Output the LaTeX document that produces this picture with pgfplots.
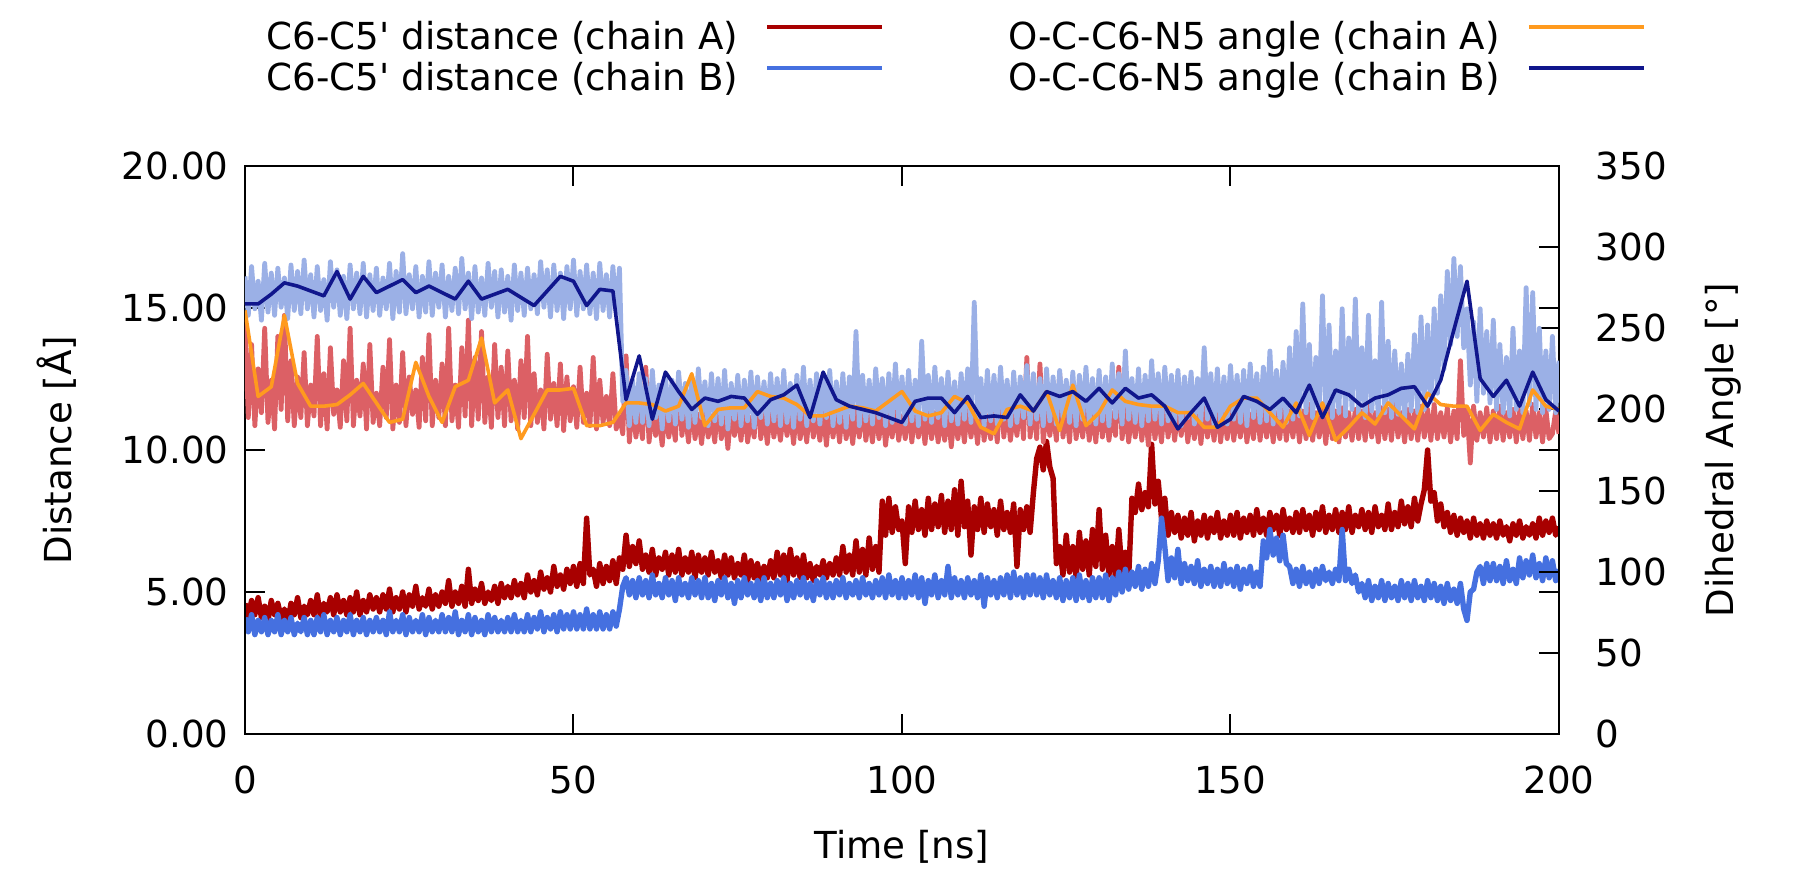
\documentclass[border=0pt]{standalone}
\usepackage{pgfplots}
\pgfplotsset{compat=1.18}
\usepackage{fontspec}
\setmainfont{DejaVu Sans}[Ligatures=TeXOff]
\definecolor{darkredA}{HTML}{A80000}
\definecolor{blueB}{HTML}{4570E0}
\definecolor{lightredA}{HTML}{DC6065}
\definecolor{lightblueB}{HTML}{9BB0E6}
\definecolor{orangeA}{HTML}{FF9A1E}
\definecolor{navyB}{HTML}{10168C}
\newcommand\fs{\fontsize{9.3}{11}\selectfont}

\pgfplotsset{
  common/.style={
    at={(0pt,0pt)},anchor=south west,
    width=328.5pt,height=142pt,scale only axis,
    xmin=0,xmax=200,
    major tick length=5pt,
    tick style={black,line width=0.5pt},
    axis line style={black,line width=0.5pt},
    tick label style={font=\fs},
    label style={font=\fs},
    /pgf/number format/assume math mode=true,
  },
  noisy/.style={line width=1.35pt,line join=round},
  noisylight/.style={line width=1.2pt,line join=round},
  smooth2/.style={line width=0.9pt,line join=round},
}

\begin{document}
\begin{tikzpicture}
\path[use as bounding box] (-61.25pt,-36pt) rectangle (389pt,183.5pt);

% distances (left axis)
\begin{axis}[common,
  ymin=0,ymax=20,
  xtick={0,50,...,200},ytick={0,5,...,20},
  xtick pos=both,xticklabel pos=lower,
  ytick pos=both,yticklabel pos=left,
  xticklabel style={yshift=-4.5pt},
  yticklabel style={xshift=-0.6pt,/pgf/number format/fixed,/pgf/number format/fixed zerofill,/pgf/number format/precision=2},
  xlabel={Time [ns]},ylabel={Distance [Å]},
  xlabel style={at={(axis description cs:0.5,-0.198)},anchor=center},
  ylabel style={at={(axis description cs:-0.143,0.5)},anchor=center},
]
% C6-C5' distance chain A
\addplot[noisy,darkredA] coordinates {
(0,4.6)(0.5,4.1)(1,4.7)(1.5,4.2)(2,4.8)(2.5,4.1)(3,4.5)(3.5,4.0)(4,4.7)(4.5,4.2)(5,4.6)(5.5,4.1)(6,4.4)(6.5,3.9)(7,4.6)(7.5,4.2)(8,4.8)(8.5,4.1)(9,4.5)(9.5,4.2)
(10,4.7)(10.5,4.2)(11,4.9)(11.5,4.1)(12,4.6)(12.5,4.3)(13,4.8)(13.5,4.2)(14,4.9)(14.5,4.3)(15,4.7)(15.5,4.2)(16,4.8)(16.5,4.3)(17,5.0)(17.5,4.2)(18,4.7)(18.5,4.3)(19,4.9)(19.5,4.4)
(20,4.8)(20.5,4.3)(21,4.9)(21.5,4.4)(22,5.1)(22.5,4.3)(23,4.8)(23.5,4.4)(24,5.0)(24.5,4.3)(25,4.9)(25.5,4.5)(26,5.2)(26.5,4.4)(27,4.8)(27.5,4.5)(28,5.1)(28.5,4.4)(29,4.9)(29.5,4.5)
(30,5.0)(30.5,4.6)(31,5.4)(31.5,4.5)(32,5.0)(32.5,4.6)(33,5.2)(33.5,4.5)(34,5.8)(34.5,4.6)(35,5.1)(35.5,4.7)(36,5.3)(36.5,4.6)(37,5.0)(37.5,4.7)(38,5.2)(38.5,4.6)(39,5.3)(39.5,4.8)
(40,5.2)(40.5,4.8)(41,5.4)(41.5,4.9)(42,5.3)(42.5,4.8)(43,5.6)(43.5,5.0)(44,5.4)(44.5,4.9)(45,5.7)(45.5,5.1)(46,5.5)(46.5,5.0)(47,5.9)(47.5,5.2)(48,5.6)(48.5,5.1)(49,5.8)(49.5,5.3)
(50,5.9)(50.5,5.2)(51,6.0)(51.5,5.3)(52,7.6)(52.5,5.6)(53,5.8)(53.5,5.2)(54,6.0)(54.5,5.3)(55,5.9)(55.5,5.4)(56,6.1)(56.5,5.3)(57,6.2)(57.5,5.8)(58,7.0)(58.5,5.9)(59,6.6)(59.5,6.0)
(60,6.8)(60.5,5.8)(61,6.3)(61.5,5.7)(62,6.5)(62.5,5.6)(63,6.2)(63.5,5.8)(64,6.4)(64.5,5.6)(65,6.3)(65.5,5.7)(66,6.5)(66.5,5.6)(67,6.2)(67.5,5.7)(68,6.4)(68.5,5.5)(69,6.3)(69.5,5.7)
(70,6.2)(70.5,5.6)(71,6.4)(71.5,5.7)(72,6.1)(72.5,5.5)(73,6.3)(73.5,5.6)(74,6.2)(74.5,5.5)(75,6.0)(75.5,5.6)(76,6.3)(76.5,5.4)(77,6.1)(77.5,5.5)(78,6.0)(78.5,5.4)(79,5.9)(79.5,5.5)
(80,6.1)(80.5,5.5)(81,6.4)(81.5,5.6)(82,6.3)(82.5,5.4)(83,6.5)(83.5,5.6)(84,6.2)(84.5,5.5)(85,6.3)(85.5,5.5)(86,6.0)(86.5,5.4)(87,5.9)(87.5,5.6)(88,6.1)(88.5,5.5)(89,6.0)(89.5,5.6)
(90,6.2)(90.5,5.6)(91,6.6)(91.5,5.7)(92,6.3)(92.5,5.6)(93,6.8)(93.5,5.7)(94,6.5)(94.5,5.6)(95,6.9)(95.5,5.8)(96,6.6)(96.5,5.7)(97,8.2)(97.5,7.0)(98,8.3)(98.5,7.1)(99,8.0)(99.5,7.2)
(100,7.5)(100.5,6.0)(101,8.0)(101.5,7.1)(102,8.2)(102.5,7.2)(103,7.9)(103.5,7.0)(104,8.3)(104.5,7.2)(105,8.1)(105.5,7.3)(106,8.4)(106.5,7.1)(107,8.2)(107.5,7.2)(108,8.6)(108.5,7.0)(109,8.9)(109.5,7.3)
(110,8.2)(110.5,6.3)(111,8.0)(111.5,7.2)(112,8.3)(112.5,7.1)(113,8.1)(113.5,7.3)(114,7.9)(114.5,7.0)(115,8.2)(115.5,7.2)(116,7.8)(116.5,7.1)(117,8.1)(117.5,5.9)(118,7.9)(118.5,7.2)(119,8.0)(119.5,7.1)
(120,8.5)(120.5,9.7)(121,10.1)(121.5,9.3)(122,10.3)(122.5,9.4)(123,9.0)(123.5,6.0)(124,6.6)(124.5,5.6)(125,7.0)(125.5,5.7)(126,6.6)(126.5,5.5)(127,7.1)(127.5,5.8)(128,6.8)(128.5,5.6)(129,7.2)(129.5,5.9)
(130,7.9)(130.5,5.8)(131,7.0)(131.5,5.6)(132,6.6)(132.5,5.5)(133,7.2)(133.5,5.7)(134,6.4)(134.5,5.5)(135,8.3)(135.5,7.8)(136,8.8)(136.5,7.9)(137,8.5)(137.5,8.0)(138,10.2)(138.5,8.1)(139,8.9)(139.5,7.6)
(140,8.3)(140.5,7.0)(141,7.8)(141.5,7.1)(142,7.7)(142.5,6.9)(143,7.6)(143.5,7.0)(144,7.8)(144.5,6.8)(145,7.5)(145.5,7.0)(146,7.7)(146.5,6.9)(147,7.6)(147.5,7.1)(148,7.8)(148.5,6.9)(149,7.5)(149.5,7.0)
(150,7.7)(150.5,7.0)(151,7.8)(151.5,6.9)(152,7.6)(152.5,7.1)(153,7.7)(153.5,7.0)(154,7.9)(154.5,7.1)(155,7.6)(155.5,7.0)(156,7.8)(156.5,7.2)(157,7.7)(157.5,7.0)(158,7.9)(158.5,7.2)(159,7.6)(159.5,7.1)
(160,7.8)(160.5,7.1)(161,7.9)(161.5,7.2)(162,7.7)(162.5,7.0)(163,7.8)(163.5,7.2)(164,8.0)(164.5,7.1)(165,7.7)(165.5,7.2)(166,7.9)(166.5,7.1)(167,7.8)(167.5,7.2)(168,8.0)(168.5,7.1)(169,7.7)(169.5,7.3)
(170,7.9)(170.5,7.2)(171,7.8)(171.5,7.1)(172,8.0)(172.5,7.3)(173,7.7)(173.5,7.2)(174,8.1)(174.5,7.2)(175,7.8)(175.5,7.3)(176,8.2)(176.5,7.4)(177,8.0)(177.5,7.3)(178,8.3)(178.5,7.5)(179,8.1)(179.5,8.6)
(180,10.0)(180.5,8.2)(181,8.5)(181.5,7.5)(182,8.1)(182.5,7.3)(183,7.8)(183.5,7.1)(184,7.7)(184.5,7.0)(185,7.6)(185.5,7.1)(186,7.5)(186.5,6.9)(187,7.6)(187.5,7.0)(188,7.4)(188.5,6.9)(189,7.5)(189.5,7.0)
(190,7.4)(190.5,6.9)(191,7.5)(191.5,7.0)(192,7.3)(192.5,6.8)(193,7.4)(193.5,7.0)(194,7.5)(194.5,6.9)(195,7.3)(195.5,7.0)(196,7.4)(196.5,6.9)(197,7.6)(197.5,7.0)(198,7.5)(198.5,7.1)(199,7.6)(199.5,7.0)
(200,7.3)};
% C6-C5' distance chain B
\addplot[noisy,blueB] coordinates {
(0,4.1)(0.5,3.6)(1,4.2)(1.5,3.5)(2,4.0)(2.5,3.6)(3,4.1)(3.5,3.5)(4,4.0)(4.5,3.6)(5,4.2)(5.5,3.5)(6,4.0)(6.5,3.6)(7,4.1)(7.5,3.5)(8,3.9)(8.5,3.6)(9,4.1)(9.5,3.5)
(10,4.0)(10.5,3.5)(11,4.1)(11.5,3.6)(12,4.2)(12.5,3.5)(13,4.0)(13.5,3.6)(14,4.1)(14.5,3.5)(15,4.0)(15.5,3.6)(16,4.2)(16.5,3.5)(17,4.0)(17.5,3.6)(18,4.1)(18.5,3.5)(19,4.0)(19.5,3.6)
(20,4.1)(20.5,3.6)(21,4.0)(21.5,3.5)(22,4.3)(22.5,3.6)(23,4.0)(23.5,3.6)(24,4.2)(24.5,3.5)(25,4.1)(25.5,3.6)(26,4.0)(26.5,3.6)(27,4.2)(27.5,3.5)(28,4.1)(28.5,3.6)(29,4.0)(29.5,3.6)
(30,4.2)(30.5,3.6)(31,4.1)(31.5,3.6)(32,4.3)(32.5,3.5)(33,4.0)(33.5,3.6)(34,4.2)(34.5,3.5)(35,4.1)(35.5,3.6)(36,4.0)(36.5,3.5)(37,4.2)(37.5,3.6)(38,4.1)(38.5,3.6)(39,4.0)(39.5,3.6)
(40,4.1)(40.5,3.6)(41,4.2)(41.5,3.6)(42,4.0)(42.5,3.6)(43,4.2)(43.5,3.6)(44,4.1)(44.5,3.7)(45,4.3)(45.5,3.6)(46,4.1)(46.5,3.7)(47,4.2)(47.5,3.6)(48,4.3)(48.5,3.7)(49,4.2)(49.5,3.7)
(50,4.3)(50.5,3.7)(51,4.2)(51.5,3.7)(52,4.4)(52.5,3.7)(53,4.2)(53.5,3.7)(54,4.3)(54.5,3.7)(55,4.2)(55.5,3.7)(56,4.3)(56.5,3.8)(57,4.4)(57.5,5.2)(58,5.5)(58.5,4.9)(59,5.4)(59.5,4.8)
(60,5.5)(60.5,4.9)(61,5.4)(61.5,4.8)(62,5.6)(62.5,4.9)(63,5.3)(63.5,4.8)(64,5.5)(64.5,4.9)(65,5.4)(65.5,4.7)(66,5.5)(66.5,4.9)(67,5.3)(67.5,4.8)(68,5.5)(68.5,4.9)(69,5.4)(69.5,4.8)
(70,5.5)(70.5,4.8)(71,5.3)(71.5,4.7)(72,5.4)(72.5,4.9)(73,5.5)(73.5,4.8)(74,5.3)(74.5,4.6)(75,5.4)(75.5,4.8)(76,5.5)(76.5,4.9)(77,5.3)(77.5,4.8)(78,5.4)(78.5,4.7)(79,5.5)(79.5,4.8)
(80,5.3)(80.5,4.8)(81,5.4)(81.5,4.9)(82,5.5)(82.5,4.7)(83,5.3)(83.5,4.8)(84,5.4)(84.5,4.9)(85,5.5)(85.5,4.8)(86,5.3)(86.5,4.7)(87,5.4)(87.5,4.9)(88,5.5)(88.5,4.8)(89,5.3)(89.5,4.8)
(90,5.4)(90.5,4.9)(91,5.5)(91.5,4.8)(92,5.3)(92.5,4.9)(93,5.4)(93.5,4.8)(94,5.5)(94.5,4.9)(95,5.3)(95.5,4.8)(96,5.4)(96.5,4.9)(97,5.5)(97.5,4.8)(98,5.6)(98.5,4.9)(99,5.4)(99.5,4.8)
(100,5.5)(100.5,4.8)(101,5.4)(101.5,4.9)(102,5.6)(102.5,4.8)(103,5.5)(103.5,4.6)(104,5.4)(104.5,4.9)(105,5.6)(105.5,4.8)(106,5.4)(106.5,4.9)(107,5.9)(107.5,4.8)(108,5.5)(108.5,4.9)(109,5.4)(109.5,4.8)
(110,5.5)(110.5,4.9)(111,5.4)(111.5,4.8)(112,5.6)(112.5,4.5)(113,5.5)(113.5,4.9)(114,5.4)(114.5,4.8)(115,5.5)(115.5,4.9)(116,5.6)(116.5,4.8)(117,5.7)(117.5,4.9)(118,5.5)(118.5,4.8)(119,5.6)(119.5,4.9)
(120,5.6)(120.5,4.9)(121,5.5)(121.5,4.8)(122,5.6)(122.5,4.9)(123,5.4)(123.5,4.8)(124,5.5)(124.5,4.7)(125,5.4)(125.5,4.8)(126,5.5)(126.5,4.7)(127,5.6)(127.5,4.8)(128,5.4)(128.5,4.7)(129,5.5)(129.5,4.8)
(130,5.5)(130.5,4.8)(131,5.6)(131.5,4.7)(132,5.5)(132.5,4.9)(133,5.7)(133.5,5.0)(134,5.8)(134.5,5.1)(135,5.7)(135.5,5.2)(136,5.9)(136.5,5.1)(137,5.8)(137.5,5.2)(138,6.0)(138.5,5.3)(139,6.1)(139.5,7.6)
(140,6.6)(140.5,5.4)(141,6.2)(141.5,5.5)(142,6.5)(142.5,5.3)(143,6.0)(143.5,5.4)(144,5.9)(144.5,5.3)(145,6.1)(145.5,5.2)(146,5.8)(146.5,5.3)(147,5.9)(147.5,5.2)(148,5.8)(148.5,5.2)(149,6.0)(149.5,5.3)
(150,5.8)(150.5,5.2)(151,5.9)(151.5,5.1)(152,5.8)(152.5,5.3)(153,5.9)(153.5,5.2)(154,5.7)(154.5,5.2)(155,6.8)(155.5,6.2)(156,7.2)(156.5,6.3)(157,6.9)(157.5,6.1)(158,7.0)(158.5,6.0)(159,5.9)(159.5,5.3)
(160,5.8)(160.5,5.2)(161,5.9)(161.5,5.3)(162,5.7)(162.5,5.2)(163,5.8)(163.5,5.3)(164,5.9)(164.5,5.4)(165,5.7)(165.5,5.3)(166,5.8)(166.5,5.4)(167,7.2)(167.5,5.4)(168,5.8)(168.5,5.3)(169,5.6)(169.5,5.0)
(170,5.3)(170.5,4.8)(171,5.4)(171.5,4.7)(172,5.2)(172.5,4.8)(173,5.4)(173.5,4.7)(174,5.3)(174.5,4.8)(175,5.2)(175.5,4.7)(176,5.4)(176.5,4.8)(177,5.3)(177.5,4.7)(178,5.4)(178.5,4.8)(179,5.2)(179.5,4.7)
(180,5.4)(180.5,4.8)(181,5.3)(181.5,4.7)(182,5.2)(182.5,4.6)(183,5.3)(183.5,4.7)(184,5.1)(184.5,4.6)(185,5.3)(185.5,4.4)(186,4.0)(186.5,5.0)(187,5.1)(187.5,5.7)(188,5.9)(188.5,5.3)(189,6.0)(189.5,5.4)
(190,6.0)(190.5,5.4)(191,5.9)(191.5,5.3)(192,6.1)(192.5,5.4)(193,5.8)(193.5,5.3)(194,6.2)(194.5,5.5)(195,6.1)(195.5,5.6)(196,6.3)(196.5,5.5)(197,6.0)(197.5,5.4)(198,6.2)(198.5,5.5)(199,6.1)(199.5,5.4)
(200,5.8)};
\end{axis}

% dihedral angles (right axis)
\begin{axis}[common,
  ymin=0,ymax=350,ytick={0,50,...,350},
  hide x axis,
  ytick pos=right,yticklabel pos=right,
  yticklabel style={xshift=5.7pt},
  ylabel={Dihedral Angle [°]},
  ylabel style={at={(axis description cs:1.125,0.5)},anchor=center},
  legend columns=2,legend plot pos=right,legend cell align=right,
  legend image code/.code={\draw[#1] (0pt,3pt) -- (28.75pt,3pt);},
  legend style={at={(axis description cs:0.016,1.26)},anchor=north west,
    draw=none,fill=none,inner sep=0pt,font=\fs,
    nodes={inner sep=0pt,text height=7.5pt,text depth=2.5pt},
    row sep=0.25pt,
    /tikz/every odd column/.append style={column sep=6.75pt},
    /tikz/every even column/.append style={column sep=31pt}},
]
\addlegendimage{darkredA,line width=1pt}
\addlegendentry{C6-C5' distance (chain A)}
\addlegendimage{orangeA,line width=1pt}
\addlegendentry{O-C-C6-N5 angle (chain A)}
\addlegendimage{blueB,line width=1pt}
\addlegendentry{C6-C5' distance (chain B)}
\addlegendimage{navyB,line width=1pt}
\addlegendentry{O-C-C6-N5 angle (chain B)}
% raw angle chain A
\addplot[noisylight,lightredA,forget plot] coordinates {
(0,255)(0.5,195)(1,240)(1.5,190)(2,225)(2.5,198)(3,250)(3.5,192)(4,218)(4.5,188)(5,245)(5.5,200)(6,258)(6.5,193)(7,230)(7.5,190)(8,220)(8.5,195)(9,235)(9.5,190)
(10,215)(10.5,196)(11,245)(11.5,190)(12,222)(12.5,188)(13,238)(13.5,197)(14,212)(14.5,189)(15,230)(15.5,193)(16,250)(16.5,190)(17,218)(17.5,196)(18,228)(18.5,188)(19,240)(19.5,192)
(20,210)(20.5,190)(21,226)(21.5,195)(22,243)(22.5,188)(23,215)(23.5,192)(24,235)(24.5,190)(25,220)(25.5,197)(26,212)(26.5,189)(27,232)(27.5,193)(28,246)(28.5,190)(29,218)(29.5,195)
(30,228)(30.5,190)(31,250)(31.5,193)(32,215)(32.5,189)(33,238)(33.5,196)(34,255)(34.5,190)(35,232)(35.5,194)(36,248)(36.5,192)(37,220)(37.5,189)(38,240)(38.5,195)(39,226)(39.5,190)
(40,236)(40.5,193)(41,218)(41.5,188)(42,230)(42.5,195)(43,245)(43.5,190)(44,222)(44.5,192)(45,212)(45.5,188)(46,234)(46.5,194)(47,216)(47.5,190)(48,228)(48.5,187)(49,220)(49.5,193)
(50,214)(50.5,189)(51,226)(51.5,192)(52,210)(52.5,190)(53,232)(53.5,188)(54,218)(54.5,192)(55,208)(55.5,190)(56,222)(56.5,188)(57,196)(57.5,185)(58,233)(58.5,180)(59,205)(59.5,183)
(60,198)(60.5,182)(61,226)(61.5,180)(62,200)(62.5,184)(63,195)(63.5,178)(64,202)(64.5,183)(65,196)(65.5,181)(66,220)(66.5,184)(67,199)(67.5,180)(68,203)(68.5,182)(69,197)(69.5,179)
(70,200)(70.5,183)(71,196)(71.5,180)(72,205)(72.5,182)(73,198)(73.5,176)(74,201)(74.5,184)(75,197)(75.5,181)(76,203)(76.5,180)(77,195)(77.5,183)(78,216)(78.5,182)(79,198)(79.5,179)
(80,201)(80.5,183)(81,196)(81.5,181)(82,200)(82.5,184)(83,198)(83.5,179)(84,202)(84.5,182)(85,197)(85.5,180)(86,204)(86.5,183)(87,196)(87.5,181)(88,199)(88.5,178)(89,201)(89.5,183)
(90,198)(90.5,180)(91,202)(91.5,182)(92,196)(92.5,179)(93,200)(93.5,183)(94,203)(94.5,181)(95,197)(95.5,180)(96,199)(96.5,182)(97,201)(97.5,178)(98,197)(98.5,183)(99,200)(99.5,181)
(100,196)(100.5,182)(101,202)(101.5,180)(102,199)(102.5,183)(103,197)(103.5,179)(104,201)(104.5,182)(105,198)(105.5,180)(106,196)(106.5,181)(107,200)(107.5,177)(108,198)(108.5,182)(109,197)(109.5,180)
(110,201)(110.5,183)(111,198)(111.5,179)(112,203)(112.5,181)(113,196)(113.5,182)(114,200)(114.5,180)(115,215)(115.5,183)(116,202)(116.5,181)(117,198)(117.5,184)(118,206)(118.5,182)(119,232)(119.5,183)
(120,204)(120.5,182)(121,228)(121.5,180)(122,201)(122.5,184)(123,199)(123.5,181)(124,222)(124.5,183)(125,200)(125.5,180)(126,212)(126.5,182)(127,198)(127.5,183)(128,203)(128.5,181)(129,199)(129.5,180)
(130,206)(130.5,183)(131,200)(131.5,181)(132,198)(132.5,184)(133,226)(133.5,182)(134,201)(134.5,180)(135,199)(135.5,183)(136,203)(136.5,181)(137,200)(137.5,178)(138,204)(138.5,182)(139,198)(139.5,180)
(140,205)(140.5,183)(141,200)(141.5,181)(142,199)(142.5,184)(143,202)(143.5,180)(144,198)(144.5,182)(145,200)(145.5,179)(146,201)(146.5,183)(147,197)(147.5,181)(148,203)(148.5,180)(149,199)(149.5,182)
(150,200)(150.5,181)(151,198)(151.5,183)(152,201)(152.5,180)(153,197)(153.5,182)(154,204)(154.5,181)(155,199)(155.5,183)(156,200)(156.5,180)(157,198)(157.5,182)(158,202)(158.5,181)(159,199)(159.5,183)
(160,201)(160.5,180)(161,199)(161.5,182)(162,203)(162.5,181)(163,198)(163.5,183)(164,200)(164.5,179)(165,202)(165.5,182)(166,199)(166.5,180)(167,201)(167.5,183)(168,198)(168.5,181)(169,200)(169.5,182)
(170,199)(170.5,181)(171,202)(171.5,183)(172,198)(172.5,180)(173,201)(173.5,182)(174,200)(174.5,181)(175,203)(175.5,183)(176,198)(176.5,180)(177,200)(177.5,182)(178,199)(178.5,181)(179,202)(179.5,183)
(180,200)(180.5,181)(181,203)(181.5,182)(182,198)(182.5,183)(183,201)(183.5,180)(184,199)(184.5,182)(185,230)(185.5,184)(186,200)(186.5,167)(187,202)(187.5,181)(188,198)(188.5,183)(189,201)(189.5,180)
(190,199)(190.5,182)(191,202)(191.5,181)(192,198)(192.5,183)(193,200)(193.5,180)(194,201)(194.5,182)(195,199)(195.5,181)(196,203)(196.5,183)(197,198)(197.5,180)(198,200)(198.5,182)(199,185)(199.5,199)
(200,185)};
% raw angle chain B
\addplot[noisylight,lightblueB,forget plot] coordinates {
(0,282)(0.5,258)(1,288)(1.5,262)(2,279)(2.5,255)(3,290)(3.5,260)(4,284)(4.5,258)(5,287)(5.5,263)(6,281)(6.5,256)(7,289)(7.5,261)(8,285)(8.5,259)(9,292)(9.5,262)
(10,283)(10.5,257)(11,288)(11.5,261)(12,280)(12.5,255)(13,291)(13.5,263)(14,286)(14.5,258)(15,282)(15.5,256)(16,289)(16.5,262)(17,284)(17.5,259)(18,290)(18.5,257)(19,283)(19.5,261)
(20,287)(20.5,258)(21,281)(21.5,262)(22,290)(22.5,256)(23,285)(23.5,260)(24,296)(24.5,259)(25,283)(25.5,262)(26,288)(26.5,257)(27,282)(27.5,260)(28,291)(28.5,258)(29,284)(29.5,263)
(30,289)(30.5,257)(31,282)(31.5,261)(32,287)(32.5,259)(33,293)(33.5,262)(34,284)(34.5,256)(35,288)(35.5,260)(36,281)(36.5,258)(37,290)(37.5,263)(38,285)(38.5,257)(39,286)(39.5,260)
(40,282)(40.5,255)(41,289)(41.5,261)(42,284)(42.5,258)(43,287)(43.5,262)(44,283)(44.5,259)(45,291)(45.5,263)(46,286)(46.5,257)(47,289)(47.5,261)(48,284)(48.5,256)(49,288)(49.5,262)
(50,292)(50.5,258)(51,285)(51.5,262)(52,289)(52.5,259)(53,284)(53.5,256)(54,290)(54.5,261)(55,283)(55.5,257)(56,288)(56.5,260)(57,287)(57.5,205)(58,224)(58.5,190)(59,218)(59.5,192)
(60,222)(60.5,192)(61,219)(61.5,190)(62,224)(62.5,195)(63,215)(63.5,188)(64,221)(64.5,193)(65,218)(65.5,191)(66,223)(66.5,194)(67,216)(67.5,189)(68,220)(68.5,192)(69,225)(69.5,195)
(70,217)(70.5,190)(71,222)(71.5,193)(72,219)(72.5,191)(73,224)(73.5,188)(74,216)(74.5,194)(75,221)(75.5,190)(76,218)(76.5,193)(77,223)(77.5,189)(78,220)(78.5,195)(79,217)(79.5,191)
(80,222)(80.5,193)(81,219)(81.5,190)(82,224)(82.5,192)(83,216)(83.5,189)(84,221)(84.5,194)(85,226)(85.5,190)(86,218)(86.5,193)(87,222)(87.5,191)(88,219)(88.5,195)(89,224)(89.5,190)
(90,217)(90.5,192)(91,222)(91.5,189)(92,220)(92.5,194)(93,248)(93.5,190)(94,221)(94.5,193)(95,218)(95.5,191)(96,225)(96.5,195)(97,219)(97.5,190)(98,222)(98.5,192)(99,228)(99.5,194)
(100,220)(100.5,191)(101,224)(101.5,193)(102,218)(102.5,190)(103,242)(103.5,194)(104,221)(104.5,192)(105,226)(105.5,195)(106,219)(106.5,190)(107,223)(107.5,193)(108,217)(108.5,191)(109,222)(109.5,194)
(110,225)(110.5,192)(111,266)(111.5,195)(112,219)(112.5,190)(113,224)(113.5,193)(114,221)(114.5,191)(115,226)(115.5,194)(116,218)(116.5,190)(117,223)(117.5,192)(118,220)(118.5,195)(119,227)(119.5,191)
(120,222)(120.5,194)(121,219)(121.5,190)(122,225)(122.5,193)(123,220)(123.5,191)(124,224)(124.5,195)(125,218)(125.5,192)(126,223)(126.5,190)(127,221)(127.5,194)(128,226)(128.5,192)(129,219)(129.5,191)
(130,224)(130.5,193)(131,220)(131.5,190)(132,228)(132.5,195)(133,222)(133.5,191)(134,236)(134.5,194)(135,219)(135.5,192)(136,225)(136.5,190)(137,221)(137.5,193)(138,230)(138.5,194)(139,222)(139.5,191)
(140,226)(140.5,193)(141,221)(141.5,192)(142,224)(142.5,190)(143,220)(143.5,195)(144,223)(144.5,191)(145,219)(145.5,193)(146,238)(146.5,194)(147,222)(147.5,190)(148,225)(148.5,193)(149,220)(149.5,191)
(150,227)(150.5,194)(151,221)(151.5,192)(152,224)(152.5,190)(153,228)(153.5,195)(154,222)(154.5,192)(155,226)(155.5,193)(156,236)(156.5,191)(157,224)(157.5,195)(158,229)(158.5,192)(159,238)(159.5,194)
(160,248)(160.5,196)(161,265)(161.5,198)(162,240)(162.5,195)(163,232)(163.5,200)(164,270)(164.5,197)(165,252)(165.5,195)(166,236)(166.5,198)(167,262)(167.5,196)(168,244)(168.5,200)(169,268)(169.5,197)
(170,238)(170.5,195)(171,258)(171.5,199)(172,230)(172.5,196)(173,266)(173.5,198)(174,242)(174.5,195)(175,236)(175.5,197)(176,228)(176.5,195)(177,234)(177.5,199)(178,246)(178.5,198)(179,257)(179.5,200)
(180,252)(180.5,205)(181,262)(181.5,210)(182,270)(182.5,225)(183,285)(183.5,240)(184,293)(184.5,245)(185,288)(185.5,238)(186,262)(186.5,215)(187,254)(187.5,205)(188,262)(188.5,210)(189,248)(189.5,204)
(190,255)(190.5,200)(191,240)(191.5,198)(192,232)(192.5,196)(193,250)(193.5,200)(194,236)(194.5,198)(195,275)(195.5,203)(196,272)(196.5,200)(197,250)(197.5,198)(198,236)(198.5,200)(199,245)(199.5,198)
(200,230)};
% sampled angle chain A
\addplot[smooth2,orangeA,forget plot] coordinates {
(0,261)(2,208)(4,214)(6,258)(8,216)(10,202)(12,202)(14,203)(16,209)(18,216)
(20,204)(22,192)(24,194)(26,229)(28,208)(30,192)(32,214)(34,218)(36,244)(38,204)
(40,212)(42,182)(44,197)(46,212)(48,212)(50,213)(52,190)(54,190)(56,192)(58,204)
(60,204)(62,203)(64,199)(66,202)(68,222)(70,190)(72,200)(74,201)(76,201)(78,211)
(80,208)(82,207)(84,203)(86,196)(88,196)(90,199)(92,202)(94,201)(96,199)(98,205)
(100,211)(102,199)(104,196)(106,198)(108,208)(110,204)(112,189)(114,185)(116,200)(118,202)
(120,199)(122,211)(124,187)(126,215)(128,190)(130,198)(132,212)(134,205)(136,203)(138,202)
(140,202)(142,198)(144,198)(146,189)(148,189)(150,202)(152,207)(154,207)(156,198)(158,189)
(160,204)(162,184)(164,204)(166,181)(168,189)(170,198)(172,191)(174,204)(176,196)(178,188)
(180,210)(182,203)(184,202)(186,202)(188,187)(190,197)(192,192)(194,188)(196,212)(198,202)
(200,200)};
% sampled angle chain B
\addplot[smooth2,navyB,forget plot] coordinates {
(0,265)(2,265)(4,271)(6,278)(8,276)(10,273)(12,270)(14,285)(16,268)(18,282)
(20,272)(22,276)(24,280)(26,272)(28,276)(30,272)(32,268)(34,279)(36,268)(38,271)
(40,274)(42,269)(44,264)(46,273)(48,282)(50,279)(52,264)(54,274)(56,273)(58,206)
(60,233)(62,194)(64,223)(66,211)(68,200)(70,207)(72,205)(74,208)(76,207)(78,197)
(80,206)(82,209)(84,215)(86,195)(88,223)(90,206)(92,202)(94,200)(96,198)(98,195)
(100,192)(102,205)(104,207)(106,207)(108,198)(110,208)(112,195)(114,196)(116,195)(118,209)
(120,199)(122,211)(124,208)(126,211)(128,205)(130,213)(132,204)(134,213)(136,207)(138,209)
(140,202)(142,188)(144,198)(146,207)(148,189)(150,194)(152,208)(154,205)(156,200)(158,207)
(160,198)(162,215)(164,195)(166,212)(168,209)(170,202)(172,207)(174,209)(176,213)(178,214)
(180,202)(182,218)(184,249)(186,279)(188,219)(190,208)(192,218)(194,202)(196,223)(198,206)
(200,199)};
\end{axis}
\end{tikzpicture}
\end{document}
